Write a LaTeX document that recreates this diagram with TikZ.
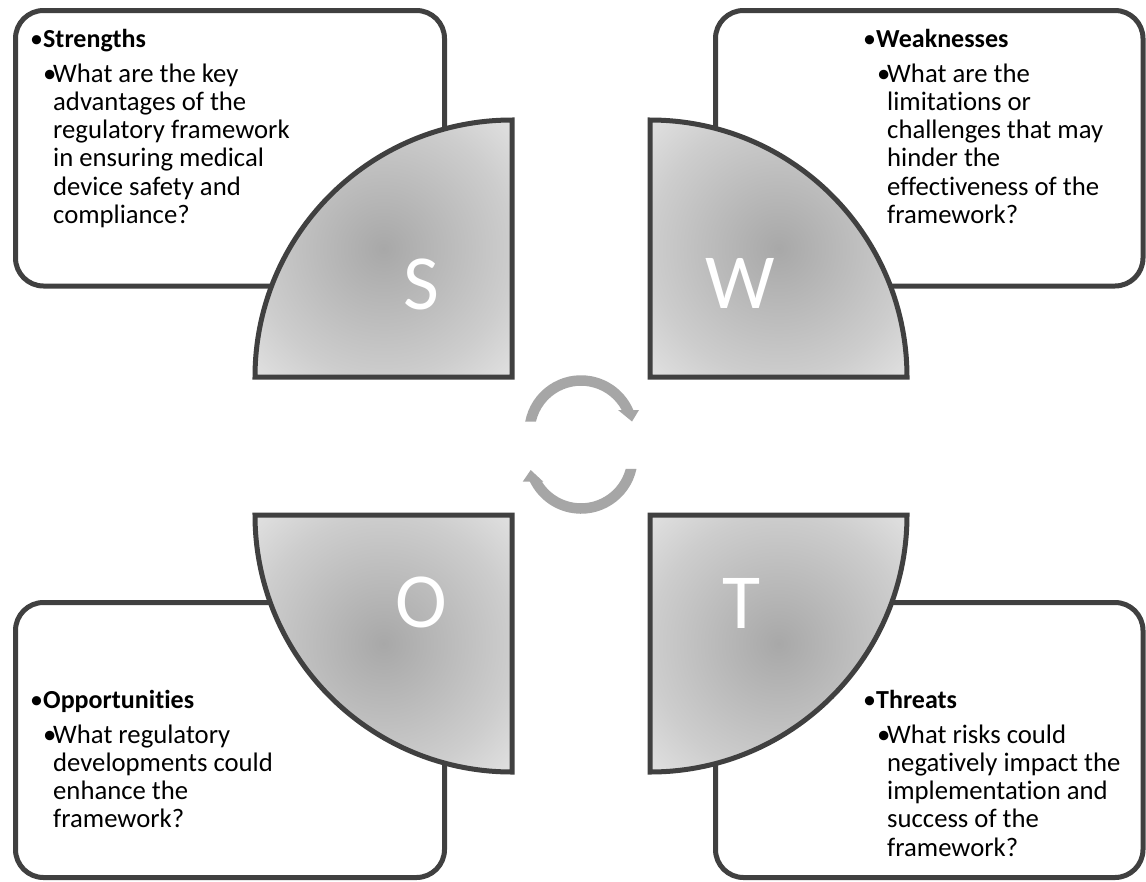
\documentclass[tikz,border=0pt]{standalone}
\usepackage{fontspec}
\setmainfont{Carlito}[Ligatures=NoCommon]
\usetikzlibrary{calc}
\definecolor{edgegray}{HTML}{404040}
\definecolor{arrowgray}{HTML}{A6A6A6}
\definecolor{piedark}{HTML}{A8A8A8}
\definecolor{piemid}{HTML}{CDCDCD}
\definecolor{pielight}{HTML}{E2E2E2}
\pgfdeclareradialshading{pieshade}{\pgfpoint{0bp}{0bp}}{color(0bp)=(piedark); color(25bp)=(piemid); color(36bp)=(pielight); color(50bp)=(pielight)}
\tikzset{
  boxstyle/.style={draw=edgegray, line width=5pt, fill=white, rounded corners=28pt},
  piestyle/.style={draw=edgegray, line width=5pt, shading=pieshade, line join=miter},
  letter/.style={text=white, font=\fontsize{78}{80}\selectfont, inner sep=0pt, anchor=center},
  headtext/.style={anchor=base west, inner sep=0pt, font=\fontsize{26}{28}\selectfont},
  bodytext/.style={anchor=base west, inner sep=0pt, font=\fontsize{26.7}{28.3}\selectfont},
  cyclearrow/.style={fill=arrowgray, draw=none}
}
\newcommand{\hbul}{\makebox[13pt][l]{\textbullet}}
\newcommand{\bbul}{\makebox[10pt][l]{\textbullet}}
\newcommand{\bodybox}[1]{\parbox[t]{300pt}{\hangindent=10pt\hangafter=1 #1}}
\begin{document}
\begin{tikzpicture}[x=1pt, y=-1pt]
\useasboundingbox (0,0) rectangle (1146,881);
\fill[white] (0,0) rectangle (1146,881);
% boxes
\draw[boxstyle] (15.5,10.5) rectangle (444.5,286) coordinate (tlbox);
\draw[boxstyle] (715.5,10.5) rectangle (1143,286) coordinate (trbox);
\draw[boxstyle] (15.5,602.5) rectangle (444.5,877.5) coordinate (blbox);
\draw[boxstyle] (715.5,602.5) rectangle (1143,877.5) coordinate (brbox);
% pies
\shadedraw[piestyle] (512,377) -- (255,377) arc[start angle=180, end angle=90, radius=257pt] -- cycle;
\shadedraw[piestyle] (650,377) -- (650,120) arc[start angle=90, end angle=0, radius=257pt] -- cycle;
\shadedraw[piestyle] (512,515) -- (255,515) arc[start angle=180, end angle=270, radius=257pt] -- cycle;
\shadedraw[piestyle] (650,515) -- (907,515) arc[start angle=0, end angle=-90, radius=257pt] -- cycle;
% letters
\node[letter] (sl) at (421,284) {S};
\node[letter] (wl) at (740,283) {W};
\node[letter] (ol) at (421,602) {O};
\node[letter] (tl) at (741,603) {T};
% center cycle arrows
\coordinate (c1) at (581,432);
\coordinate (c2) at (581,457);
\fill[cyclearrow] ($(c1)+(169.5:56.75pt)$) arc[start angle=169.5, end angle=22.8, radius=56.75pt]
  -- (639,410) coordinate (uh1) -- (632,421.5) coordinate (utip) -- (618,410) coordinate (uh2)
  -- ($(c1)+(28.4:46.25pt)$) arc[start angle=28.4, end angle=167.1, radius=46.25pt] -- cycle;
\fill[cyclearrow] ($(c2)+(-12.2:56.75pt)$) arc[start angle=-12.2, end angle=-154.2, radius=56.75pt]
  -- (522.7,481.7) coordinate (lh1) -- (530.7,470) coordinate (ltip) -- (543.3,481.7) coordinate (lh2)
  -- ($(c2)+(-147.7:46.25pt)$) arc[start angle=-147.7, end angle=-15, radius=46.25pt] -- cycle;
% texts
\node[headtext] (sh) at (30,47) {\hbul\textbf{Strengths}};
\node[bodytext] (sb) at (43,82) {\bodybox{\bbul What are the key\\advantages of the\\regulatory framework\\in ensuring medical\\device safety and\\compliance?}};
\node[headtext] (wh) at (863,47) {\hbul\textbf{Weaknesses}};
\node[bodytext] (wb) at (877,82) {\bodybox{\bbul What are the\\limitations or\\challenges that may\\hinder the\\effectiveness of the\\framework?}};
\node[headtext] (oh) at (30,708) {\hbul\textbf{Opportunities}};
\node[bodytext] (ob) at (43,743) {\bodybox{\bbul What regulatory\\developments could\\enhance the\\framework?}};
\node[headtext] (th) at (863,708) {\hbul\textbf{Threats}};
\node[bodytext] (tb) at (877,743) {\bodybox{\bbul What risks could\\negatively impact the\\implementation and\\success of the\\framework?}};
\end{tikzpicture}
\end{document}
